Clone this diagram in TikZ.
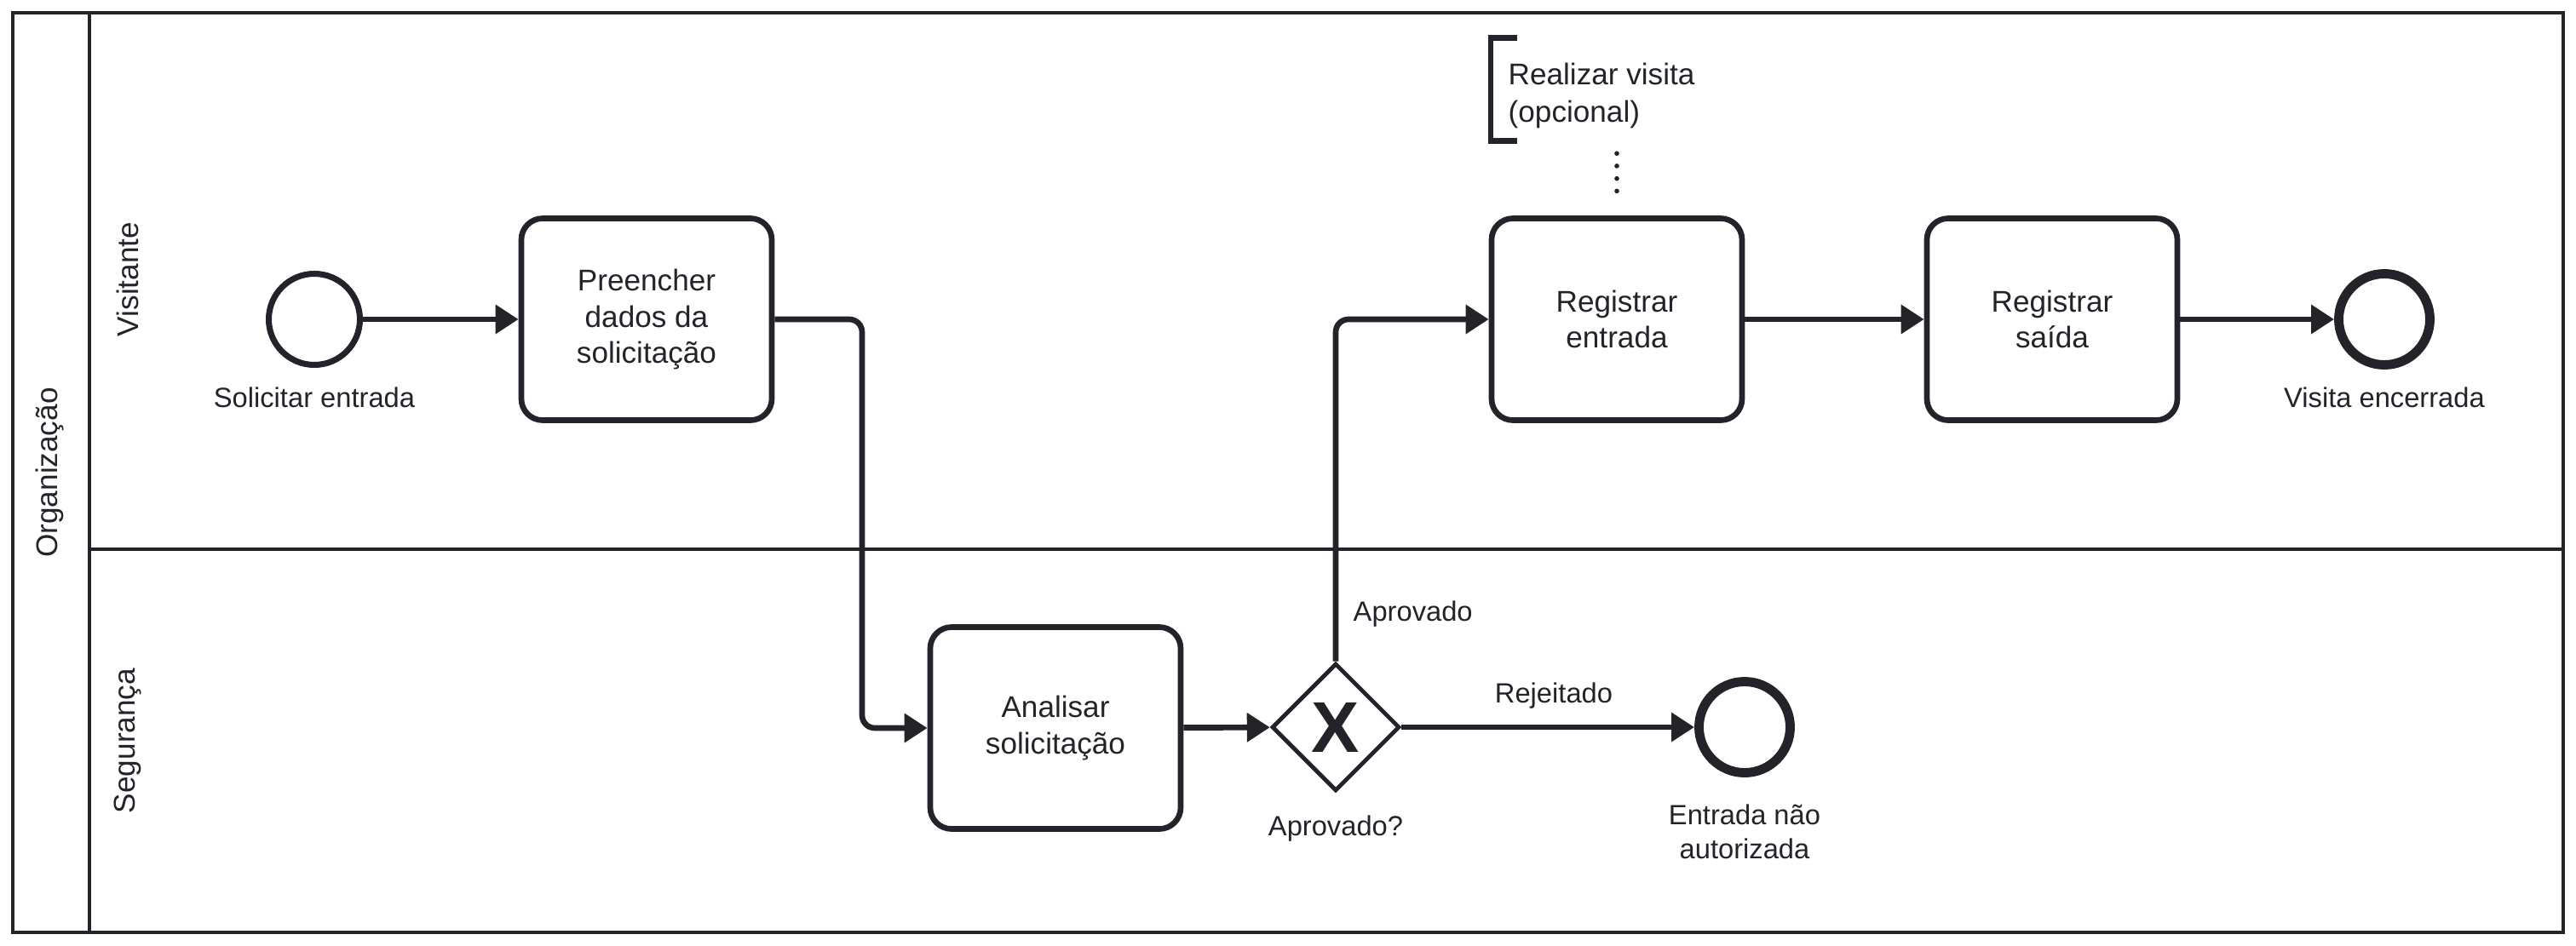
\documentclass[tikz,border=0pt]{standalone}
\usepackage{fontspec}
\setmainfont{Liberation Sans}
\usetikzlibrary{arrows.meta, shapes.geometric, positioning}
\definecolor{ink}{RGB}{34,36,42}

\begin{document}
\begin{tikzpicture}[
		task/.style={draw=ink, rounded corners=0.25cm, line width=1.9pt, minimum width=2.94cm, minimum height=2.37cm, inner sep=0pt, align=center, text=ink, font=\fontsize{10}{12}\selectfont},
		startevent/.style={draw=ink, circle, line width=2pt, minimum size=1.07cm, inner sep=0pt},
		endevent/.style={draw=ink, circle, line width=3.1pt, minimum size=1.07cm, inner sep=0pt},
		gateway/.style={draw=ink, diamond, line width=1.4pt, minimum width=1.5cm, minimum height=1.5cm, inner sep=0pt, text=ink, font=\fontsize{24}{24}\bfseries\selectfont},
		flow/.style={draw=ink, line width=1.9pt, rounded corners=0.15cm, -{Triangle[length=0.27cm, width=0.33cm]}},
		lbl/.style={text=ink, inner sep=0pt, align=center, font=\fontsize{9.3}{11.3}\selectfont},
		lane/.style={text=ink, rotate=90, font=\fontsize{10}{12}\selectfont},
		pool/.style={draw=ink, line width=1.2pt}
	]
	\useasboundingbox (0,0) rectangle (30.24,11.10);

	\draw[pool] (0.15,0.15) rectangle (30.09,10.95);
	\draw[pool] (1.05,0.15) -- (1.05,10.95);
	\draw[pool] (1.05,4.65) -- (30.09,4.65);
	\node[lane] (org) at (0.58,5.55) {Organização};
	\node[lane] (visitor) at (1.50,7.82) {Visitante};
	\node[lane] (security) at (1.50,2.40) {Segurança};

	\node[startevent] (start) at (3.69,7.35) {};
	\node[task] (fill) at (7.59,7.35) {Preencher\\dados da\\solicitação};
	\node[task] (regin) at (18.98,7.35) {Registrar\\entrada};
	\node[task] (regout) at (24.09,7.35) {Registrar\\saída};
	\node[endevent] (visitend) at (27.99,7.35) {};
	\node[task] (analyse) at (12.39,2.55) {Analisar\\solicitação};
	\node[gateway] (approved) at (15.68,2.56) {X};
	\node[endevent] (deniedend) at (20.48,2.56) {};

	\node[lbl] (startlbl) at (3.69,6.43) {Solicitar entrada};
	\node[lbl] (visitendlbl) at (27.99,6.43) {Visita encerrada};
	\node[lbl, anchor=base] (approvedlbl) at (15.68,1.29) {Aprovado?};
	\node[lbl] (deniedlbl) at (20.48,1.33) {Entrada não\\autorizada};
	\node[lbl, anchor=base west] (yeslbl) at (15.88,3.81) {Aprovado};
	\node[lbl, anchor=base] (nolbl) at (18.24,2.85) {Rejeitado};

	\node[lbl, anchor=west, align=left, minimum height=1.19cm, inner xsep=0.2cm, font=\fontsize{10}{12.5}\selectfont] (note) at (17.50,9.98) {Realizar visita\\(opcional)};
	\draw[ink, line width=1.9pt] ([xshift=0.31cm, yshift=0.07cm]note.north west) -- ([yshift=0.07cm]note.north west) -- ([yshift=0.07cm]note.south west) -- ([xshift=0.31cm, yshift=0.07cm]note.south west);
	\draw[ink, line width=1.6pt, line cap=round, dash pattern=on 0pt off 4.19pt] ([yshift=-0.08cm]note.south -| regin.north) -- ([yshift=0.17cm]regin.north);

	\coordinate (bend) at (10.12,7.35);
	\draw[flow] (start) -- (fill);
	\draw[flow] (fill.east) -- (bend) |- (analyse.west);
	\draw[flow] (analyse) -- (approved);
	\draw[flow] (approved.north) |- (regin.west);
	\draw[flow] (approved) -- (deniedend);
	\draw[flow] (regin) -- (regout);
	\draw[flow] (regout) -- (visitend);
\end{tikzpicture}
\end{document}
